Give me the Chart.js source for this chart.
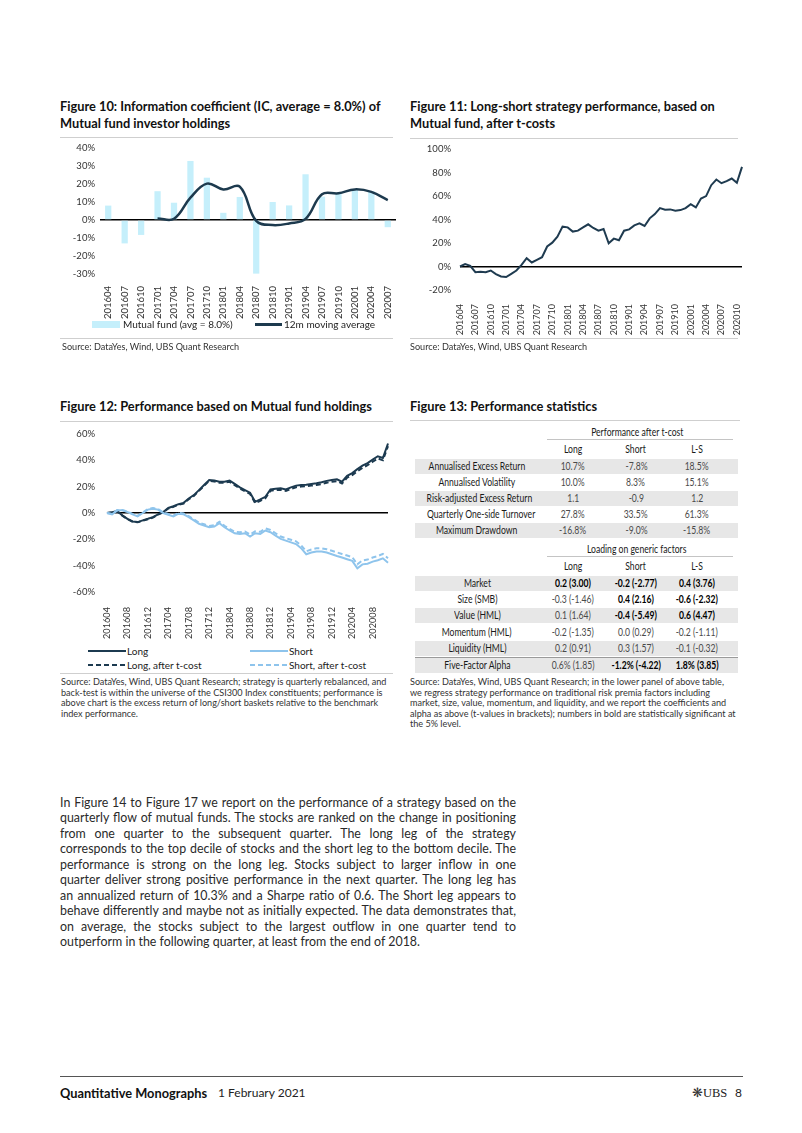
<!DOCTYPE html>
<html>
<head>
<meta charset="utf-8">
<script src="https://cdn.jsdelivr.net/npm/chart.js@4.4.0/dist/chart.umd.min.js"></script>
<style>
  body { margin: 0; background: #fff; }
  #page { position: relative; width: 802px; height: 1133px; overflow: hidden; font-family: Lato, "Open Sans", sans-serif; color: #222; }
  .abs { position: absolute; white-space: nowrap; }
  .title { position: absolute; font-weight: 700; font-size: 12.8px; line-height: 16.5px; color: #111; white-space: nowrap; }
  .rule { position: absolute; height: 1px; background: #cfcfcf; }
  .src { position: absolute; font-size: 9.1px; line-height: 10.6px; color: #333; white-space: nowrap; }
  .leg { position: absolute; font-size: 10px; color: #222; white-space: nowrap; line-height: 12px; }
  .tbl { position: absolute; font-size: 10.5px; line-height: 15px; white-space: nowrap; }
  .tbl span { display: inline-block; transform: scaleX(0.82); transform-origin: 50% 50%; }
  .row { position: absolute; left: 415px; width: 323px; height: 15px; }
  .cell { position: absolute; top: 0; text-align: center; line-height: 15px; }
  .body { position: absolute; left: 60px; font-size: 12.4px; font-weight: 400; color: #2a2a2a; }
  .body span { display: inline-block; white-space: nowrap; }
</style>
</head>
<body>
<div id="page">

  <!-- Figure 10 -->
  <div class="title" style="left:60px;top:98px">Figure 10: Information coefficient (IC, average = 8.0%) of<br>Mutual fund investor holdings</div>
  <div class="rule" style="left:60px;top:137px;width:333px"></div>
  <canvas id="fig10" class="abs" style="left:60px;top:138px" width="340" height="182"></canvas>
  <div class="abs" style="left:92px;top:321px;width:28px;height:7px;background:#c5effb"></div>
  <div class="leg" style="left:123px;top:318px">Mutual fund (avg = 8.0%)</div>
  <div class="abs" style="left:255px;top:323px;width:27px;height:2.5px;background:#1d3a4e"></div>
  <div class="leg" style="left:284px;top:318px">12m moving average</div>
  <div class="rule" style="left:60px;top:338px;width:333px"></div>
  <div class="src" style="left:62px;top:342px">Source: DataYes, Wind, UBS Quant Research</div>

  <!-- Figure 11 -->
  <div class="title" style="left:410px;top:98px">Figure 11: Long-short strategy performance, based on<br>Mutual fund, after t-costs</div>
  <div class="rule" style="left:410px;top:138px;width:328px"></div>
  <canvas id="fig11" class="abs" style="left:405px;top:140px" width="345" height="196"></canvas>
  <div class="rule" style="left:410px;top:338px;width:328px"></div>
  <div class="src" style="left:410px;top:342px">Source: DataYes, Wind, UBS Quant Research</div>

  <!-- Figure 12 -->
  <div class="title" style="left:60px;top:398px">Figure 12: Performance based on Mutual fund holdings</div>
  <div class="rule" style="left:60px;top:421px;width:333px"></div>
  <canvas id="fig12" class="abs" style="left:60px;top:425px" width="340" height="215"></canvas>
  <svg class="abs" style="left:88px;top:649px" width="38" height="4"><line x1="0" y1="2" x2="38" y2="2" stroke="#1c3a50" stroke-width="2"/></svg>
  <div class="leg" style="left:127px;top:645px">Long</div>
  <svg class="abs" style="left:250px;top:649px" width="38" height="4"><line x1="0" y1="2" x2="38" y2="2" stroke="#8ec4ec" stroke-width="2"/></svg>
  <div class="leg" style="left:289px;top:645px">Short</div>
  <svg class="abs" style="left:88px;top:663px" width="38" height="4"><line x1="0" y1="2" x2="38" y2="2" stroke="#1c3a50" stroke-width="2" stroke-dasharray="5 3"/></svg>
  <div class="leg" style="left:127px;top:659px">Long, after t-cost</div>
  <svg class="abs" style="left:250px;top:663px" width="38" height="4"><line x1="0" y1="2" x2="38" y2="2" stroke="#8ec4ec" stroke-width="2" stroke-dasharray="5 3"/></svg>
  <div class="leg" style="left:289px;top:659px">Short, after t-cost</div>
  <div class="rule" style="left:60px;top:673px;width:333px"></div>
  <div class="src" style="left:61px;top:677px">Source: DataYes, Wind, UBS Quant Research; strategy is quarterly rebalanced, and<br>back-test is within the universe of the CSI300 Index constituents; performance is<br>above chart is the excess return of long/short baskets relative to the benchmark<br>index performance.</div>

  <!-- Figure 13 -->
  <div class="title" style="left:410px;top:398px">Figure 13: Performance statistics</div>
  <div class="rule" style="left:410px;top:420px;width:330px"></div>
  <div id="table13"></div>
  <div class="src" style="left:410px;top:677px">Source: DataYes, Wind, UBS Quant Research; in the lower panel of above table,<br>we regress strategy performance on traditional risk premia factors including<br>market, size, value, momentum, and liquidity, and we report the coefficients and<br>alpha as above (t-values in brackets); numbers in bold are statistically significant at<br>the 5% level.</div>

  <!-- body text -->
  <div id="bodytext"></div>

  <!-- footer -->
  <div class="abs" style="left:60px;top:1076px;width:683px;height:1px;background:#555"></div>
  <div class="abs" style="left:60px;top:1085px;font-size:12.8px;font-weight:700;color:#111">Quantitative Monographs</div>
  <div class="abs" style="left:218px;top:1085px;font-size:12px;color:#222">1 February 2021</div>
  <div class="abs" style="left:692px;top:1084px;font-size:13px;color:#333">&#10059;<span style="font-family:'Liberation Serif',serif;font-size:12.5px;color:#222">UBS</span></div>
  <div class="abs" style="left:735px;top:1085px;font-size:12px;color:#222">8</div>
</div>

<script>
// ---------- Figure 10 data ----------
let quarters = ['201604','201607','201610','201701','201704','201707','201710','201801','201804',
  '201807','201810','201901','201904','201907','201910','202001','202004','202007']
let icQuarterly = [8, -13, -8.3, 16, 9.6, 32.8, 23.5, 4, 12.8, -29.8, 10, 8.1, 25.4, 13, 15, 17, 16, -4]
let icMoving12m = [null, null, null, 0.9, 0.7, 12.4, 20.2, 17, 18.5, -0.5, -2.8, -1.9, 0.6, 14.3, 14.8, 17, 15.6, 11.1]

// ---------- Figure 11 / 12 data (monthly) ----------
let months = ['201604','201605','201606','201607','201608','201609','201610','201611','201612',
  '201701','201702','201703','201704','201705','201706','201707','201708','201709','201710','201711','201712',
  '201801','201802','201803','201804','201805','201806','201807','201808','201809','201810','201811','201812',
  '201901','201902','201903','201904','201905','201906','201907','201908','201909','201910','201911','201912',
  '202001','202002','202003','202004','202005','202006','202007','202008','202009','202010','202011']

let longShortNet = [0, 2.0, 0.6, -4.8, -4.5, -4.8, -3.4, -6.5, -8.5, -9.0, -6.2, -3.4, 1.4, 7.1, 3.4, 5.6,
  7.9, 17.0, 20.3, 25.4, 33.9, 33.3, 29.7, 30.5, 33.3, 35.9, 32.8, 30.5, 31.9, 19.8, 23.7, 22.3, 30.5, 31.6,
  35.0, 36.7, 34.5, 41.0, 44.6, 49.7, 48.3, 48.6, 47.5, 48.0, 49.7, 53.1, 50.3, 57.9, 59.9, 69.2, 74.0, 70.9,
  72.6, 74.9, 71.2, 84.8]

let longRet = [0, 0.5, 1.5, -1.8, -4.4, -6.4, -6.9, -5.6, -4.4, -3.1, -1.0, 0.8, 3.8, 5.1, 6.7, 7.7, 11.0,
  13.6, 17.4, 21.3, 25.1, 24.6, 23.8, 23.8, 24.6, 22.1, 19.5, 17.4, 15.4, 8.5, 10.3, 12.3, 17.9, 18.5, 18.7,
  17.9, 19.5, 20.8, 21.3, 21.5, 22.1, 22.6, 23.3, 24.4, 25.1, 25.6, 23.8, 28.2, 30.3, 33.3, 35.9, 37.9, 40.5,
  43.1, 41.8, 52.8]
let longRetNet = [0, 0.4, 1.3, -2.0, -4.6, -6.6, -7.1, -5.9, -4.7, -3.4, -1.3, 0.5, 3.4, 4.7, 6.3, 7.2, 10.5,
  13.0, 16.8, 20.6, 24.4, 23.9, 23.0, 23.0, 23.7, 21.2, 18.6, 16.5, 14.5, 7.5, 9.3, 11.3, 16.8, 17.4, 17.6,
  16.8, 18.3, 19.6, 20.1, 20.3, 20.8, 21.3, 22.0, 23.0, 23.7, 24.2, 22.4, 26.8, 28.8, 31.7, 34.3, 36.3, 38.9,
  41.4, 40.0, 50.8]
let shortRet = [0, -1, 2.0, 2.0, 0.8, -1.0, -2.6, 0, 2.6, 3.3, 2.6, 0, -1.3, -2.6, -0.5, -1.0, -3.1, -5.6,
  -8.2, -9.5, -10.8, -10.3, -7.7, -10.8, -13.3, -15.4, -15.9, -15.4, -17.9, -15.4, -15.9, -13.3, -14.6, -17.2,
  -19.7, -21.0, -22.3, -23.6, -26.7, -31.3, -30.0, -29.2, -29.2, -30.0, -31.3, -32.6, -33.8, -35.1, -36.4,
  -42.0, -39.0, -38.5, -36.9, -35.9, -34.4, -37.7]
let shortRetNet = [0, -0.8, 2.2, 2.2, 1.1, -0.7, -2.2, 0.4, 3.0, 3.7, 3.0, 0.5, -0.8, -2.0, 0.1, -0.4, -2.4,
  -4.8, -7.4, -8.6, -9.9, -9.3, -6.7, -9.7, -12.1, -14.2, -14.6, -14.0, -16.4, -13.9, -14.3, -11.7, -12.9,
  -15.4, -17.9, -19.1, -20.3, -21.5, -24.6, -29.1, -27.7, -26.8, -26.8, -27.5, -28.7, -29.9, -31.1, -32.3,
  -33.5, -39.0, -36.0, -35.4, -33.8, -32.7, -31.1, -34.3]

// ---------- Figure 13 table ----------
let statColumns = ['Long', 'Short', 'L-S']
let statRows = [
  ['Annualised Excess Return', '10.7%', '-7.8%', '18.5%'],
  ['Annualised Volatility', '10.0%', '8.3%', '15.1%'],
  ['Risk-adjusted Excess Return', '1.1', '-0.9', '1.2'],
  ['Quarterly One-side Turnover', '27.8%', '33.5%', '61.3%'],
  ['Maximum Drawdown', '-16.8%', '-9.0%', '-15.8%']
]
let factorRows = [
  ['Market', '0.2 (3.00)', '-0.2 (-2.77)', '0.4 (3.76)'],
  ['Size (SMB)', '-0.3 (-1.46)', '0.4 (2.16)', '-0.6 (-2.32)'],
  ['Value (HML)', '0.1 (1.64)', '-0.4 (-5.49)', '0.6 (4.47)'],
  ['Momentum (HML)', '-0.2 (-1.35)', '0.0 (0.29)', '-0.2 (-1.11)'],
  ['Liquidity (HML)', '0.2 (0.91)', '0.3 (1.57)', '-0.1 (-0.32)'],
  ['Five-Factor Alpha', '0.6% (1.85)', '-1.2% (-4.22)', '1.8% (3.85)']
]
let factorBold = [[1,1,1],[0,1,1],[0,1,1],[0,0,0],[0,0,0],[0,1,1]]

let bodyLines = [
  'In Figure 14 to Figure 17 we report on the performance of a strategy based on the',
  'quarterly flow of mutual funds. The stocks are ranked on the change in positioning',
  'from one quarter to the subsequent quarter. The long leg of the strategy',
  'corresponds to the top decile of stocks and the short leg to the bottom decile. The',
  'performance is strong on the long leg. Stocks subject to larger inflow in one',
  'quarter deliver strong positive performance in the next quarter. The long leg has',
  'an annualized return of 10.3% and a Sharpe ratio of 0.6. The Short leg appears to',
  'behave differently and maybe not as initially expected. The data demonstrates that,',
  'on average, the stocks subject to the largest outflow in one quarter tend to',
  'outperform in the following quarter, at least from the end of 2018.'
]

Chart.defaults.font.family = 'Lato, "Open Sans", sans-serif'
Chart.defaults.color = '#333'
Chart.defaults.animation = false

// y grid shows only the black zero line
let zeroLine = {
  drawTicks: false,
  lineWidth: 1.5,
  color: c => (c.tick && c.tick.value === 0) ? '#000' : 'rgba(0,0,0,0)'
}
let pct = v => v + '%'
// fixed axis sizes so the plot areas land where the original ones are
let fixX = h => s => { s.height = h; s.paddingLeft = 0; s.paddingRight = 0 }
let fixY = w => s => { s.width = w; s.paddingTop = 0; s.paddingBottom = 0 }

// Figure 10: IC bars + moving average
new Chart(document.getElementById('fig10'), {
  type: 'bar',
  data: {
    labels: quarters,
    datasets: [
      { type: 'line', label: '12m moving average', data: icMoving12m, borderColor: '#1d3a4e',
        borderWidth: 2.5, pointRadius: 0, tension: 0.4, order: 0 },
      { type: 'bar', label: 'Mutual fund (avg = 8.0%)', data: icQuarterly, backgroundColor: '#c5effb',
        barPercentage: 0.38, categoryPercentage: 1, order: 1 }
    ]
  },
  options: {
    responsive: false,
    layout: { padding: { top: 10, right: 4, left: 0, bottom: 0 } },
    plugins: { legend: { display: false }, tooltip: { enabled: false } },
    scales: {
      x: { offset: true, grid: { display: false }, border: { display: false },
        ticks: { autoSkip: false, minRotation: 90, maxRotation: 90, padding: 4, font: { size: 9.5 } },
        afterFit: fixX(46) },
      y: { min: -30, max: 40, border: { display: false }, grid: zeroLine,
        ticks: { stepSize: 10, callback: pct, padding: 5, font: { size: 9.5 } },
        afterFit: fixY(40) }
    }
  }
})

// Figure 11: long-short cumulative performance
new Chart(document.getElementById('fig11'), {
  type: 'line',
  data: {
    labels: months,
    datasets: [
      { label: 'L-S', data: longShortNet, borderColor: '#1f3b50', borderWidth: 2, pointRadius: 0, tension: 0 }
    ]
  },
  options: {
    responsive: false,
    layout: { padding: { top: 9, right: 8, left: 0, bottom: 0 } },
    plugins: { legend: { display: false }, tooltip: { enabled: false } },
    scales: {
      x: { grid: { display: false }, border: { display: false },
        ticks: { autoSkip: false, minRotation: 90, maxRotation: 90, padding: 6, font: { size: 9 },
          callback: function(v, i) { return i % 3 === 0 ? this.getLabelForValue(v) : '' } },
        afterFit: fixX(46) },
      y: { min: -20, max: 100, border: { display: false }, grid: zeroLine,
        ticks: { stepSize: 20, callback: pct, padding: 9, font: { size: 9.5 } },
        afterFit: fixY(55) }
    }
  }
})

// Figure 12: long / short legs
new Chart(document.getElementById('fig12'), {
  type: 'line',
  data: {
    labels: months,
    datasets: [
      { label: 'Short, after t-cost', data: shortRetNet, borderColor: '#8ec4ec', borderWidth: 2, borderDash: [5, 3], pointRadius: 0 },
      { label: 'Short', data: shortRet, borderColor: '#8ec4ec', borderWidth: 2, pointRadius: 0 },
      { label: 'Long, after t-cost', data: longRetNet, borderColor: '#1c3a50', borderWidth: 2, borderDash: [5, 3], pointRadius: 0 },
      { label: 'Long', data: longRet, borderColor: '#1c3a50', borderWidth: 2, pointRadius: 0 }
    ]
  },
  options: {
    responsive: false,
    layout: { padding: { top: 9, right: 12, left: 0, bottom: 0 } },
    plugins: { legend: { display: false }, tooltip: { enabled: false } },
    scales: {
      x: { grid: { display: false }, border: { display: false },
        ticks: { autoSkip: false, minRotation: 90, maxRotation: 90, padding: 7, font: { size: 9.2 },
          callback: function(v, i) { return i % 4 === 0 ? this.getLabelForValue(v) : '' } },
        afterFit: fixX(48) },
      y: { min: -60, max: 60, border: { display: false }, grid: zeroLine,
        ticks: { stepSize: 20, callback: pct, padding: 12, font: { size: 9.5 } },
        afterFit: fixY(47) }
    }
  }
})

// ---------- table for Figure 13 ----------
let tbl = document.getElementById('table13')
let colCenters = [477, 573, 636, 697]
let colWidths = [124, 64, 64, 64]

function addText(text, cx, cy) {
  let d = document.createElement('div')
  d.className = 'tbl'
  d.style.left = (cx - 80) + 'px'
  d.style.width = '160px'
  d.style.textAlign = 'center'
  d.style.top = (cy - 7.5) + 'px'
  d.style.color = '#1a1a1a'
  let s = document.createElement('span')
  s.textContent = text
  d.appendChild(s)
  tbl.appendChild(d)
}
function addLine(x, y, w, color) {
  let d = document.createElement('div')
  d.className = 'abs'
  Object.assign(d.style, { left: x + 'px', top: y + 'px', width: w + 'px', height: '1px', background: color })
  tbl.appendChild(d)
}
function addRow(cells, cy, grey, bold) {
  let r = document.createElement('div')
  r.className = 'row tbl'
  r.style.top = (cy - 7.5) + 'px'
  if (grey) r.style.background = '#e7e7e7'
  cells.forEach((t, i) => {
    let c = document.createElement('div')
    c.className = 'cell'
    c.style.left = (colCenters[i] - colWidths[i] / 2 - 415) + 'px'
    c.style.width = colWidths[i] + 'px'
    let s = document.createElement('span')
    s.textContent = t
    c.appendChild(s)
    if (i === 0) c.style.color = '#1a1a1a'
    else if (bold && bold[i - 1]) { c.style.color = '#000'; c.style.fontWeight = '700' }
    else c.style.color = '#4a4a4a'
    r.appendChild(c)
  })
  tbl.appendChild(r)
}

addText('Performance after t-cost', 637, 432)
addLine(547, 439, 186, '#c4c4c4')
statColumns.forEach((c, i) => addText(c, colCenters[i + 1], 449))
statRows.forEach((r, i) => addRow(r, 466.5 + i * 16.1, i % 2 === 0))
addText('Loading on generic factors', 637, 549)
addLine(547, 556, 186, '#c4c4c4')
statColumns.forEach((c, i) => addText(c, colCenters[i + 1], 566.5))
let factorY = [583.3, 599.5, 615.7, 632, 648.2, 665]
factorRows.forEach((r, i) => addRow(r, factorY[i], [0, 2, 4, 5].includes(i), factorBold[i]))
addLine(415, 657, 323, '#9a9a9a')

// ---------- body text, each line justified to the column ----------
let bodyBox = document.getElementById('bodytext')
bodyLines.forEach((line, i) => {
  let d = document.createElement('div')
  d.className = 'body'
  d.style.top = (795 + i * 15.45) + 'px'
  let s = document.createElement('span')
  s.textContent = line
  d.appendChild(s)
  bodyBox.appendChild(d)
  if (i < bodyLines.length - 1) {
    let natural = s.getBoundingClientRect().width
    let gaps = line.split(' ').length - 1
    s.style.wordSpacing = ((456 - natural) / gaps) + 'px'
  }
})
</script>
</body>
</html>
